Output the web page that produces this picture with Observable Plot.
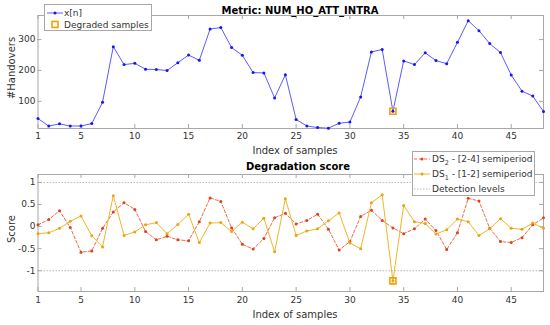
<!DOCTYPE html>
<html><head><meta charset="utf-8">
<script src="https://cdn.jsdelivr.net/npm/d3@7"></script>
<script src="https://cdn.jsdelivr.net/npm/@observablehq/plot@0.6"></script>
<style>
body{margin:0;background:#fff;}
#wrap{position:relative;width:550px;height:325px;overflow:hidden;background:#fff;font-family:"DejaVu Sans",sans-serif;}
#top,#bot,#ov{position:absolute;left:0;}
#top{top:0}#bot{top:160px}#ov{top:0}
</style></head><body>
<div id="wrap"><div id="top"></div><div id="bot"></div><svg id="ov" width="550" height="325"></svg></div>
<script>
// ---- data ----
const sampleIdx = [1,2,3,4,5,6,7,8,9,10,11,12,13,14,15,16,17,18,19,20,21,22,23,24,25,26,27,28,29,30,31,32,33,34,35,36,37,38,39,40,41,42,43,44,45,46,47,48];
const handovers = [44,20,27,20,20,28,97,277,219,223,204,203,200,225,250,233,334,339,274,249,193,192,111,186,41,20,15,13,29,33,114,260,268,68,231,219,257,232,222,291,361,329,287,258,185,133,117,67];
const ds2Score = [0.04,0.16,0.36,-0.02,-0.58,-0.55,-0.04,0.33,0.54,0.39,-0.11,-0.30,-0.22,-0.30,-0.32,0.11,0.65,0.57,-0.03,-0.40,-0.51,-0.27,0.20,0.30,0.06,0.14,0.28,-0.06,-0.53,-0.34,0.23,0.37,0.14,-0.03,-0.16,-0.05,0.17,-0.09,-0.52,-0.14,0.64,0.58,-0.04,-0.34,-0.36,-0.25,0.04,0.20];
const ds1Score = [-0.16,-0.14,-0.04,0.12,0.24,-0.21,-0.46,0.70,-0.20,-0.12,0.04,0.09,-0.16,0.05,0.28,-0.36,0.08,0.09,-0.11,0.10,-0.05,0.19,-0.57,0.63,-0.20,-0.10,-0.05,0.13,0.31,-0.37,-0.50,0.54,0.72,-1.23,0.48,0.11,0.07,-0.17,-0.07,0.17,0.11,-0.20,-0.05,0.18,-0.04,-0.06,0.08,-0.04];
const degradedIdx = [34];
const detectionLevels = [-1, 1];
const xTicks = [1,5,10,15,20,25,30,35,40,45];
const yTicksTop = [100,200,300];
const yTicksBot = [-1,-0.5,0,0.5,1];
const topTitle = "Metric: NUM_HO_ATT_INTRA";
const botTitle = "Degradation score";
const xLabel = "Index of samples";
const yLabelTop = "#Handovers";
const yLabelBot = "Score";

// ---- styles ----
const C = {
  blueLine:"#5c5cff", blueDot:"#1414ff",
  redLine:"#ee6a48", redDot:"#e0401c",
  yelLine:"#f2b527", yelDot:"#e9a410",
  sq:"#f5a000", frame:"#a8a8a8", det:"#b8b8b8", text:"#333"
};
const W = 550, ML = 37.5, MR = 7;
const xDom = [1, 48];
const style = {fontFamily:"DejaVu Sans", fontSize:"9px", color:C.text, background:"transparent", overflow:"visible"};

function innerTicks(yDom, plotH, yt) {
  const plotW = W - ML - MR;
  const lx = 4 * (xDom[1]-xDom[0]) / plotW, ly = 4 * (yDom[1]-yDom[0]) / plotH;
  const s = {stroke: C.frame, strokeWidth: 1};
  return [
    Plot.ruleX(xTicks, {x: d=>d, y1: yDom[0], y2: yDom[0]+ly, ...s}),
    Plot.ruleX(xTicks, {x: d=>d, y1: yDom[1]-ly, y2: yDom[1], ...s}),
    Plot.ruleY(yt, {y: d=>d, x1: xDom[0], x2: xDom[0]+lx, ...s}),
    Plot.ruleY(yt, {y: d=>d, x1: xDom[1]-lx, x2: xDom[1], ...s})
  ];
}

// ---- top chart ----
const topData = sampleIdx.map((i,k)=>({i, v: handovers[k]}));
const topDeg = topData.filter(d => degradedIdx.includes(d.i));
const yDomTop = [12, 378];
const topH = 160, topMT = 15, topMB = 32;
const topPlot = Plot.plot({
  width: W, height: topH, marginTop: topMT, marginBottom: topMB, marginLeft: ML, marginRight: MR,
  style,
  x: {domain: xDom, ticks: xTicks, tickSize: 0, tickPadding: 4.5, tickFormat: d=>String(d), label: null},
  y: {domain: yDomTop, ticks: yTicksTop, tickSize: 0, tickPadding: 2.5, tickFormat: d=>String(d), label: null},
  marks: [
    Plot.frame({stroke: C.frame}),
    ...innerTicks(yDomTop, topH-topMT-topMB, yTicksTop),
    Plot.line(topData, {x:"i", y:"v", stroke: C.blueLine, strokeWidth: 1}),
    Plot.dot(topData, {x:"i", y:"v", r: 1.5, fill: C.blueDot, stroke: null}),
    Plot.dot(topDeg, {x:"i", y:"v", symbol:"square", r: 3.4, stroke: C.sq, strokeWidth: 1.6, fill: "none"})
  ]
});
document.getElementById("top").appendChild(topPlot);

// ---- bottom chart ----
const botData = sampleIdx.map((i,k)=>({i, ds2: ds2Score[k], ds1: ds1Score[k]}));
const botDeg = botData.filter(d => degradedIdx.includes(d.i));
const yDomBot = [-1.47, 1.18];
const botH = 165, botMT = 14, botMB = 34;
const botPlot = Plot.plot({
  width: W, height: botH, marginTop: botMT, marginBottom: botMB, marginLeft: ML, marginRight: MR,
  style,
  x: {domain: xDom, ticks: xTicks, tickSize: 0, tickPadding: 5, tickFormat: d=>String(d), label: null},
  y: {domain: yDomBot, ticks: yTicksBot, tickSize: 0, tickPadding: 2.5, tickFormat: d=>String(d), label: null},
  marks: [
    Plot.ruleY(detectionLevels, {y: d=>d, stroke: C.det, strokeDasharray: "1.5,1.5"}),
    Plot.frame({stroke: C.frame}),
    ...innerTicks(yDomBot, botH-botMT-botMB, yTicksBot),
    Plot.line(botData, {x:"i", y:"ds2", stroke: C.redLine, strokeWidth: 1, strokeDasharray: "3,2"}),
    Plot.dot(botData, {x:"i", y:"ds2", r: 1.5, fill: C.redDot, stroke: null}),
    Plot.line(botData, {x:"i", y:"ds1", stroke: C.yelLine, strokeWidth: 1}),
    Plot.dot(botData, {x:"i", y:"ds1", r: 1.5, fill: C.yelDot, stroke: null}),
    Plot.dot(botDeg, {x:"i", y:"ds1", symbol:"square", r: 3.4, stroke: C.sq, strokeWidth: 1.6, fill: "none"})
  ]
});
document.getElementById("bot").appendChild(botPlot);

// ---- overlay texts and legends ----
const ov = d3.select("#ov").style("font-family","DejaVu Sans");
function txt(x, y, s, o={}) {
  const t = ov.append("text").attr("x", x).attr("y", y).text(s)
    .attr("font-size", o.size || "10px").attr("fill", o.fill || C.text)
    .attr("text-anchor", o.anchor || "middle");
  if (o.bold) t.attr("font-weight", "bold");
  if (o.rotate) t.attr("transform", `rotate(-90,${x},${y})`);
  return t;
}
txt(300, 13.5, topTitle, {bold: true, fill: "#000"});
txt(298, 169.5, botTitle, {bold: true, fill: "#000"});
txt(295, 153.5, xLabel);
txt(295, 317.5, xLabel);
txt(15, 68, yLabelTop, {rotate: true});
txt(15, 229, yLabelBot, {rotate: true});

// top legend
ov.append("rect").attr("x",44.5).attr("y",4.5).attr("width",107).attr("height",26)
  .attr("fill","#fff").attr("stroke",C.frame);
ov.append("line").attr("x1",47).attr("x2",63).attr("y1",13).attr("y2",13).attr("stroke",C.blueLine);
ov.append("circle").attr("cx",55).attr("cy",13).attr("r",1.5).attr("fill",C.blueDot);
txt(64, 16.2, "x[n]", {anchor:"start", size:"9px"});
ov.append("rect").attr("x",52).attr("y",21.5).attr("width",6).attr("height",6)
  .attr("fill","none").attr("stroke",C.sq).attr("stroke-width",1.6);
txt(64, 27.8, "Degraded samples", {anchor:"start", size:"9px"});

// bottom legend
ov.append("rect").attr("x",412.5).attr("y",151.5).attr("width",122).attr("height",44)
  .attr("fill","#fff").attr("stroke",C.frame);
function dsEntry(y, sub, rest, lineCol, dotCol, dash) {
  const l = ov.append("line").attr("x1",414).attr("x2",430).attr("y1",y).attr("y2",y).attr("stroke",lineCol);
  if (dash) l.attr("stroke-dasharray", dash);
  ov.append("circle").attr("cx",422).attr("cy",y).attr("r",1.5).attr("fill",dotCol);
  const t = ov.append("text").attr("x",432).attr("y",y+3).attr("font-size","9px").attr("fill",C.text);
  t.append("tspan").text("DS");
  t.append("tspan").attr("dy",2.5).attr("font-size","6.5px").text(sub);
  t.append("tspan").attr("dy",-2.5).text(rest);
}
dsEntry(159, "2", " - [2-4] semiperiod", C.redLine, C.redDot, "3,2");
dsEntry(174, "1", " - [1-2] semiperiod", C.yelLine, C.yelDot, null);
ov.append("line").attr("x1",414).attr("x2",430).attr("y1",189).attr("y2",189)
  .attr("stroke",C.det).attr("stroke-dasharray","1.5,1.5");
txt(432, 192.2, "Detection levels", {anchor:"start", size:"9px"});
</script>
</body></html>
